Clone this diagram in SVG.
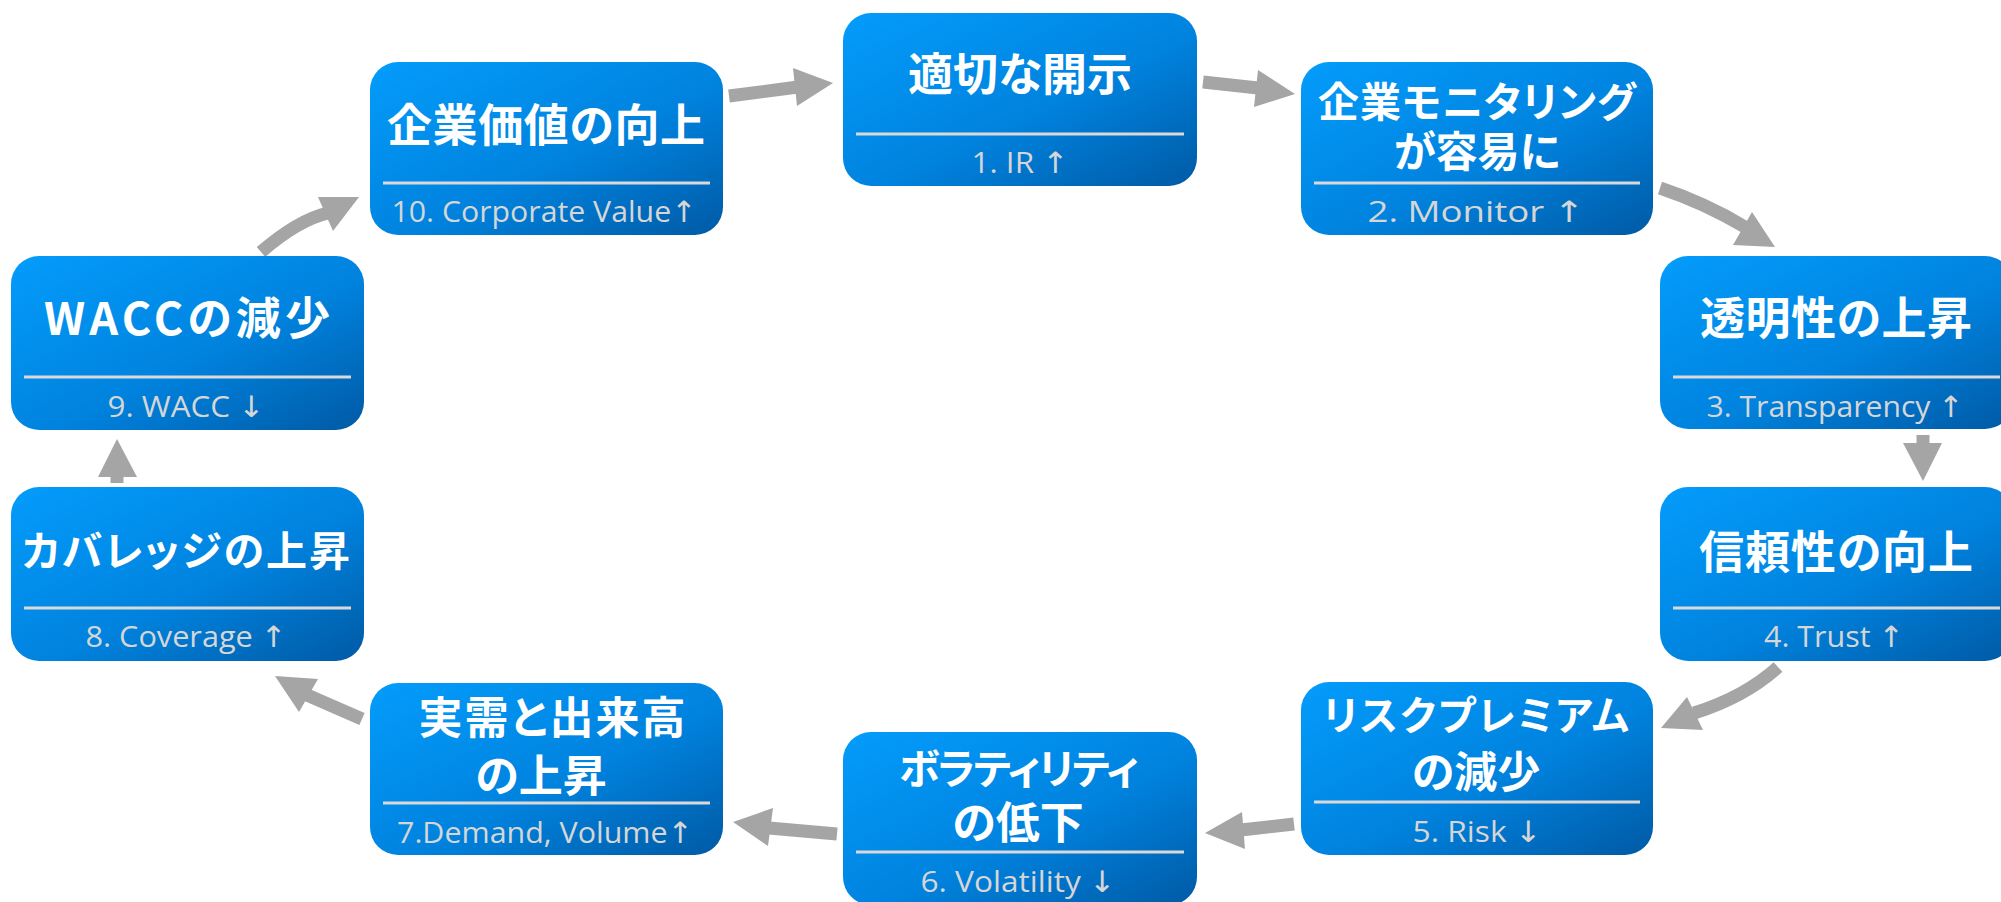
<svg xmlns="http://www.w3.org/2000/svg" width="2001" height="902" viewBox="0 0 2001 902">
  <defs>
    <linearGradient id="boxGrad" x1="0" y1="0" x2="1" y2="1">
      <stop offset="0" stop-color="#049cfb"/>
      <stop offset="0.55" stop-color="#0083df"/>
      <stop offset="1" stop-color="#005aa5"/>
    </linearGradient>
    <style>
      .box { fill: url(#boxGrad); }
      .div { stroke: #d9d9d9; stroke-width: 3; }
      .title { fill: #ffffff; font-family: "Noto Sans CJK JP", "Noto Sans", sans-serif; font-weight: 700; text-anchor: middle; font-feature-settings: "palt" 1; }
      .sub { fill: #d6d6d6; font-family: "Open Sans", "DejaVu Sans", sans-serif; font-size: 29.5px; text-anchor: middle; }
      .shaft { fill: none; stroke: #a5a5a5; stroke-width: 13; }
      .head { fill: #a5a5a5; }
    </style>
  </defs>
  <rect width="2001" height="902" fill="#ffffff"/>

  <g id="connectors">
    <!-- 10 -> 1 -->
    <path class="shaft" d="M729,96 L798,87"/>
    <polygon class="head" points="793,68 833,83 797,106"/>
    <!-- 1 -> 2 -->
    <path class="shaft" d="M1203,82 L1258,88"/>
    <polygon class="head" points="1258,70 1295,94 1254,107"/>
    <!-- 2 -> 3 -->
    <path class="shaft" d="M1660,188 Q1705,203 1745,227"/>
    <polygon class="head" points="1752,212 1775,247 1733,245"/>
    <!-- 3 -> 4 -->
    <path class="shaft" d="M1923,435 L1923,446"/>
    <polygon class="head" points="1903,443 1942,443 1923,481"/>
    <!-- 4 -> 5 -->
    <path class="shaft" d="M1778,667 Q1745,697 1694,713"/>
    <polygon class="head" points="1687,697 1703,730 1661,728"/>
    <!-- 5 -> 6 -->
    <path class="shaft" d="M1294,824 L1241,830"/>
    <polygon class="head" points="1242,812 1245,849 1205,833"/>
    <!-- 6 -> 7 -->
    <path class="shaft" d="M837,834 L769,828"/>
    <polygon class="head" points="773,808 768,846 733,822"/>
    <!-- 7 -> 8 -->
    <path class="shaft" d="M362,719 L307,695"/>
    <polygon class="head" points="318,679 299,712 275,676"/>
    <!-- 8 -> 9 -->
    <path class="shaft" d="M117,483 L117,474"/>
    <polygon class="head" points="98,477 137,477 117,439"/>
    <!-- 9 -> 10 -->
    <path class="shaft" d="M261,252 Q298,220 328,213"/>
    <polygon class="head" points="318,197 359,197 333,231"/>
  </g>

  <g id="node-1">
    <rect class="box" x="843" y="13" width="354" height="173" rx="28"/>
    <line class="div" x1="856" y1="134" x2="1184" y2="134"/>
    <text class="title" x="1020" y="91" font-size="45" textLength="224">適切な開示</text>
    <text class="sub" x="1020" y="173" textLength="97" lengthAdjust="spacingAndGlyphs">1. IR ↑</text>
  </g>

  <g id="node-2">
    <rect class="box" x="1301" y="62" width="352" height="173" rx="28"/>
    <line class="div" x1="1314" y1="183" x2="1640" y2="183"/>
    <text class="title" x="1477" y="117" font-size="41" textLength="318">企業モニタリング</text>
    <text class="title" x="1477" y="167" font-size="42">が容易に</text>
    <text class="sub" x="1476" y="222" font-size="33" textLength="217" lengthAdjust="spacingAndGlyphs">2. Monitor ↑</text>
  </g>

  <g id="node-3">
    <rect class="box" x="1660" y="256" width="353" height="173" rx="28"/>
    <line class="div" x1="1673" y1="377" x2="2000" y2="377"/>
    <text class="title" x="1836" y="335" font-size="45" textLength="272">透明性の上昇</text>
    <text class="sub" x="1835" y="417" textLength="257" lengthAdjust="spacingAndGlyphs">3. Transparency ↑</text>
  </g>

  <g id="node-4">
    <rect class="box" x="1660" y="487" width="353" height="174" rx="28"/>
    <line class="div" x1="1673" y1="608" x2="2000" y2="608"/>
    <text class="title" x="1836" y="569" font-size="45" textLength="274">信頼性の向上</text>
    <text class="sub" x="1834" y="647" textLength="140" lengthAdjust="spacingAndGlyphs">4. Trust ↑</text>
  </g>

  <g id="node-5">
    <rect class="box" x="1301" y="682" width="352" height="173" rx="28"/>
    <line class="div" x1="1314" y1="802" x2="1640" y2="802"/>
    <text class="title" x="1476" y="730" font-size="40" textLength="306">リスクプレミアム</text>
    <text class="title" x="1476" y="788" font-size="43">の減少</text>
    <text class="sub" x="1477" y="842" textLength="129" lengthAdjust="spacingAndGlyphs">5. Risk ↓</text>
  </g>

  <g id="node-6">
    <rect class="box" x="843" y="732" width="354" height="173" rx="28"/>
    <line class="div" x1="856" y1="852" x2="1184" y2="852"/>
    <text class="title" x="1019" y="784" font-size="41" textLength="240">ボラティリティ</text>
    <text class="title" x="1018" y="839" font-size="44">の低下</text>
    <text class="sub" x="1018" y="892" textLength="195" lengthAdjust="spacingAndGlyphs">6. Volatility ↓</text>
  </g>

  <g id="node-7">
    <rect class="box" x="370" y="683" width="353" height="172" rx="28"/>
    <line class="div" x1="383" y1="803" x2="710" y2="803"/>
    <text class="title" x="552" y="734" font-size="44" textLength="267">実需と出来高</text>
    <text class="title" x="541" y="792" font-size="44">の上昇</text>
    <text class="sub" x="545" y="843" textLength="296" lengthAdjust="spacingAndGlyphs">7.Demand, Volume↑</text>
  </g>

  <g id="node-8">
    <rect class="box" x="11" y="487" width="353" height="174" rx="28"/>
    <line class="div" x1="24" y1="608" x2="351" y2="608"/>
    <text class="title" x="186" y="566" font-size="41" textLength="328">カバレッジの上昇</text>
    <text class="sub" x="186" y="647" textLength="201" lengthAdjust="spacingAndGlyphs">8. Coverage ↑</text>
  </g>

  <g id="node-9">
    <rect class="box" x="11" y="256" width="353" height="174" rx="28"/>
    <line class="div" x1="24" y1="377" x2="351" y2="377"/>
    <text class="title" x="187" y="335" font-size="45" textLength="286">WACCの減少</text>
    <text class="sub" x="186" y="417" textLength="157" lengthAdjust="spacingAndGlyphs">9. WACC ↓</text>
  </g>

  <g id="node-10">
    <rect class="box" x="370" y="62" width="353" height="173" rx="28"/>
    <line class="div" x1="383" y1="183" x2="710" y2="183"/>
    <text class="title" x="546" y="142" font-size="45" textLength="318">企業価値の向上</text>
    <text class="sub" x="544" y="222" textLength="305" lengthAdjust="spacingAndGlyphs">10. Corporate Value↑</text>
  </g>
</svg>
